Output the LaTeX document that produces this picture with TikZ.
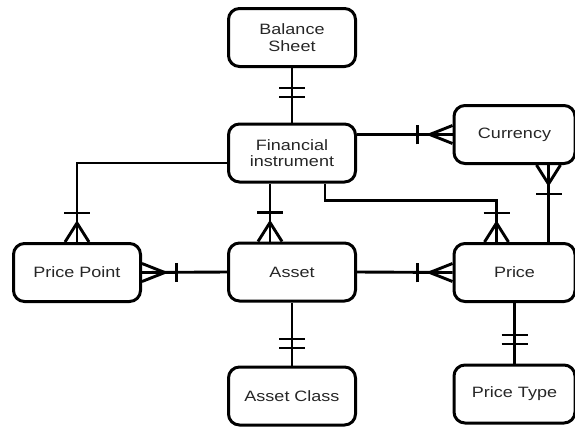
\documentclass[tikz,border=0pt]{standalone}
\usepackage{fontspec}
\setmainfont{Liberation Sans}[FakeStretch=1.2]
\usetikzlibrary{positioning,calc}

\tikzset{
  entity/.style={draw,line width=3pt,rounded corners=11pt,
    minimum width=127pt,minimum height=58pt,align=center,
    text=black!85,font=\fontsize{15}{16.5}\selectfont},
  rel/.style={line width=2.9pt},
  many/.pic={\draw[rel] (0,-12) -- (19,0) -- (0,12);
    \draw[rel] (29,-13) -- (29,13);},
  one/.pic={\draw[rel] (-4.5,-13) -- (-4.5,13) (4.5,-13) -- (4.5,13);},
  flat/.style={xscale=1.2,yscale=0.75}
}

\begin{document}
\begin{tikzpicture}[x=1pt,y=-1pt]
  \useasboundingbox (0,0) rectangle (575,429);
  % entities
  \node[entity] (bal) at (292,37.5) {Balance\\Sheet};
  \node[entity] (fin) at (292,153) {Financial\\instrument};
  \node[entity,minimum width=121pt] (cur) at (514.5,134.5) {Currency};
  \node[entity] (pp) at (77,272.5) {Price Point};
  \node[entity] (asset) at (292,272) {Asset};
  \node[entity,minimum width=121pt] (price) at (514.5,272.5) {Price};
  \node[entity] (acls) at (292,396) {Asset Class};
  \node[entity,minimum width=121pt] (ptype) at (514.5,394) {Price Type};

  % one to one
  \draw[rel] (bal.south) -- (fin.north);
  \pic[rotate=90] at ($(fin.north)+(0,-30)$) {one};
  \draw[rel] (asset.south) -- (acls.north);
  \pic[rotate=90] at ($(acls.north)+(0,-22)$) {one};
  \draw[rel] (price.south) -- (ptype.north);
  \pic[rotate=90] at ($(ptype.north)+(0,-24)$) {one};

  % one to many
  \draw[rel] (cur.west) -- (cur.west -| fin.east);
  \pic[rotate=180,flat] at (cur.west) {many};
  \draw[rel] ($(fin.west)+(0,10)$) -| (pp.north);
  \pic[rotate=90] at (pp.north) {many};
  \draw[rel] ($(fin.south)+(-22,0)$) -- ($(asset.north)+(-22,0)$);
  \pic[rotate=90] at ($(asset.north)+(-22,0)$) {many};
  \draw[rel] ($(fin.south)+(33,0)$) -- ++(0,17) -| ($(price.north)+(-18,0)$);
  \pic[rotate=90] at ($(price.north)+(-18,0)$) {many};
  \draw[rel] ($(cur.south)+(34,0)$) -- ($(price.north)+(34,0)$);
  \pic[rotate=-90] at ($(cur.south)+(34,0)$) {many};
  \draw[rel] (asset.west) -- (pp.east);
  \pic[flat] at (pp.east) {many};
  \draw[rel] (asset.east) -- (price.west);
  \pic[rotate=180,flat] at (price.west) {many};
\end{tikzpicture}
\end{document}
